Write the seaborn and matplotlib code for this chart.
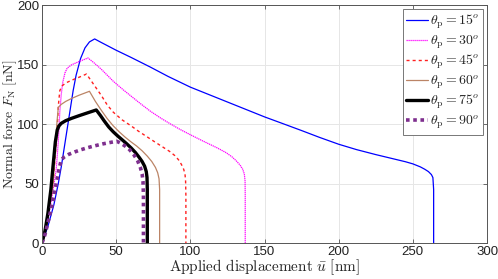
import matplotlib
matplotlib.use('Agg')
import matplotlib.pyplot as plt
import seaborn as sns
import pandas as pd

# values (displacement [nm], normal force [nN])
u_15 = [0, 4, 8, 11, 13, 15, 17, 19, 21, 23, 26, 29, 32, 35.5, 40, 50, 60, 72.8, 85, 100, 112, 125, 137, 150, 162,
        175, 187, 200, 212, 225, 237, 245, 250, 255, 258, 260.5, 262.5, 263.5, 264, 264]
f_15 = [0, 14, 32, 50, 64, 80, 96, 112, 128, 141, 155, 164, 169, 171.5, 168.5, 162, 156, 148, 140, 131, 125, 118.5,
        112.5, 106, 100.5, 94.5, 88.8, 83, 78.5, 74.3, 70.7, 68.3, 66.5, 64, 62, 60, 57.5, 55, 45, 0]

u_30 = [0, 4, 7.5, 9.6, 11, 12, 13, 14, 15.5, 17, 20, 25, 31, 35, 40, 48, 55, 60, 66, 72.8, 80, 86, 93, 100, 108,
        118, 124, 128, 131, 133.5, 135.3, 136.4, 136.9, 137, 137]
f_30 = [0, 19, 45, 62, 85, 110, 125, 135, 143, 147, 149.8, 152.5, 155.5, 151.5, 146, 136, 128.5, 123.5, 117.5, 111,
        105, 100.5, 95.5, 91, 86, 80, 76, 72.5, 69, 65.5, 62, 58, 52, 40, 0]

u_45 = [0, 4, 7.5, 10, 11, 12, 13.5, 16, 20, 25, 30, 35, 40, 44, 48, 54, 60, 65, 70.5, 76, 81, 86, 89.5, 92, 94,
        95.5, 96.4, 96.8, 97, 97]
f_45 = [0, 20, 50, 90, 115, 128, 132, 134.5, 136.8, 139.3, 142, 133, 124, 116, 110, 103.5, 98.5, 94, 89.5, 85, 81,
        77, 73.5, 70, 66, 62, 58, 52, 40, 0]

u_60 = [0, 4, 7.5, 10, 11, 13, 16, 20, 25, 32, 36, 40, 44, 48, 52, 56, 60, 63.8, 67.5, 71, 74, 76.5, 78, 78.9,
        79.3, 79.3]
f_60 = [0, 20, 50, 100, 114, 116.5, 119, 121.5, 124.2, 127.5, 119, 111.5, 104.5, 98.5, 93.5, 89, 85, 81.5, 77.5,
        73, 68.5, 63.5, 59, 54, 45, 0]

u_75 = [0, 2, 4, 6, 7.4, 9, 10.3, 11.5, 13, 16, 20, 25, 31, 36.6, 39.5, 42, 45, 48, 51, 54, 57, 60, 63, 65.5,
        67.5, 69.2, 70.3, 70.8, 71, 71]
f_75 = [0, 10, 25, 45, 64, 85, 95, 98.5, 100.6, 102.8, 104.8, 107, 109.5, 111.8, 107, 102.5, 97.5, 93.5, 90, 86.8,
        83.5, 80, 76, 72, 68.5, 64.5, 60, 55, 45, 0]

u_90 = [0, 2, 4, 7, 9.6, 11.5, 13, 15, 18, 22, 26, 31, 36, 41, 46, 50.3, 53, 56, 59, 62, 64.5, 66.3, 67.5, 68.1,
        68.4, 68.4]
f_90 = [0, 7, 17, 33, 50, 62, 70, 72.3, 74.5, 76.5, 78.3, 80.2, 81.8, 83.3, 84.5, 85.5, 84, 81.5, 78.5, 74, 69,
        63.5, 58, 52, 40, 0]

labels = [r'$\theta_\mathrm{p}=15^o$', r'$\theta_\mathrm{p}=30^o$', r'$\theta_\mathrm{p}=45^o$',
          r'$\theta_\mathrm{p}=60^o$', r'$\theta_\mathrm{p}=75^o$', r'$\theta_\mathrm{p}=90^o$']

sns.set_style('ticks')
plt.rcParams['font.family'] = ['Liberation Sans', 'DejaVu Sans']
plt.rcParams['mathtext.fontset'] = 'cm'

fig = plt.figure(figsize=(4.98, 2.79), dpi=100)
ax = fig.add_axes([0.0843, 0.129, 0.8937, 0.853])

series = [(u_15, f_15), (u_30, f_30), (u_45, f_45), (u_60, f_60), (u_75, f_75), (u_90, f_90)]
styles = [dict(color='#0000ff', lw=0.9, ls='-'),
          dict(color='#ff00ff', lw=0.9, ls=(0, (1, 0.6))),
          dict(color='#ff2020', lw=1.0, ls=(0, (2.2, 2.2))),
          dict(color='#bb8466', lw=0.9, ls='-'),
          dict(color='black', lw=2.4, ls='-'),
          dict(color='#7e2f8e', lw=2.6, ls=(0, (1, 1)))]

for (u, f), lab, st in zip(series, labels, styles):
    d = pd.DataFrame({'u': u, 'f': f})
    sns.lineplot(data=d, x='u', y='f', sort=False, estimator=None, ax=ax,
                 label=lab, color=st['color'], linewidth=st['lw'], linestyle=st['ls'])

ax.set_xlim(0, 300)
ax.set_ylim(0, 200)
ax.set_xticks([0, 50, 100, 150, 200, 250, 300])
ax.set_yticks([0, 50, 100, 150, 200])
ax.grid(True, color='#e6e6e6', lw=0.7)
ax.set_axisbelow(True)
for s in ax.spines.values():
    s.set_color('#555555')
    s.set_linewidth(0.7)
ax.tick_params(direction='in', length=3, width=0.6, color='#555555', labelsize=9.5,
               top=True, right=True, labelcolor='#222222', pad=2)

ax.set_xlabel(r'$\mathrm{Applied\ displacement\ }\bar{u}\ \mathrm{[nm]}$', fontsize=11, labelpad=0)
ax.set_ylabel(r'$\mathrm{Normal\ force\ }F_\mathrm{N}\ \mathrm{[nN]}$', fontsize=10)
ax.yaxis.set_label_coords(-0.052, 0.5)

leg = ax.legend(loc='upper right', fontsize=10, handlelength=1.6, handletextpad=0.1,
                borderpad=0.25, labelspacing=0.15, borderaxespad=0.3, fancybox=False,
                framealpha=1)
leg.get_frame().set_edgecolor('#777777')
leg.get_frame().set_linewidth(0.7)

fig.savefig('out.png', dpi=100)
